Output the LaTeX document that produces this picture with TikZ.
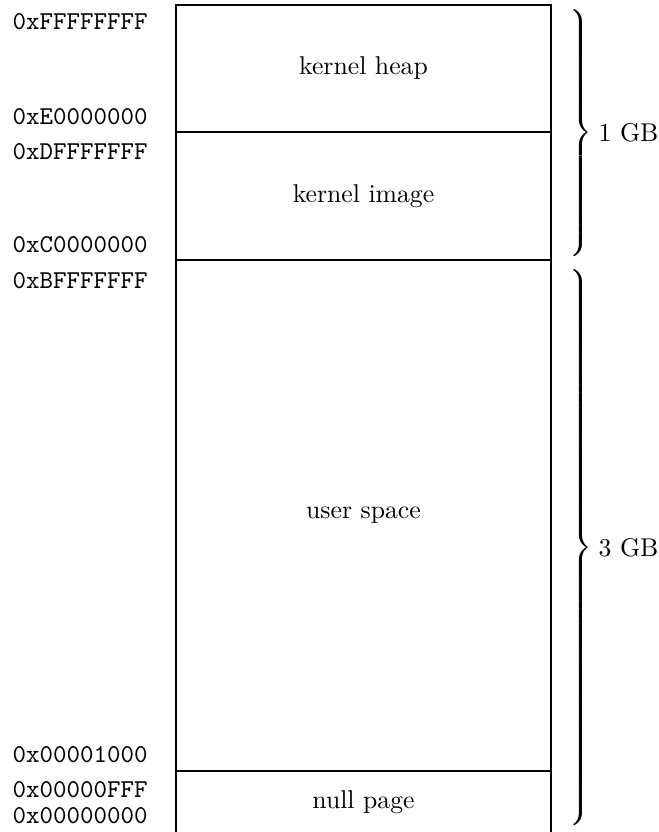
\documentclass[tikz,border=0pt]{standalone}
\delimiterfactor=1000
\delimitershortfall=0pt
\begin{document}
\begin{tikzpicture}[x=0.3889pt,y=-0.3889pt,
  addr/.style={anchor=base west,inner sep=0pt,font=\ttfamily},
  region/.style={draw,outer sep=0pt,inner sep=0pt,minimum width=375*0.3889pt,anchor=north west},
  bracenode/.style={anchor=west,inner sep=0pt},
  sizelbl/.style={anchor=west,inner sep=0pt}]
\useasboundingbox (0,0) rectangle (659,832);
\node[region,minimum height=127*0.3889pt] (heap) at (176,5) {kernel heap};
\node[region,minimum height=128*0.3889pt] (image) at (heap.south west) {kernel image};
\node[region,minimum height=511*0.3889pt] (user) at (image.south west) {user space};
\node[region,minimum height=62*0.3889pt] (null) at (user.south west) {null page};
\node[addr] (a1) at (12,29) {0xFFFFFFFF};
\node[addr] (a2) at (12,124) {0xE0000000};
\node[addr] (a3) at (12,159) {0xDFFFFFFF};
\node[addr] (a4) at (12,252) {0xC0000000};
\node[addr] (a5) at (12,288) {0xBFFFFFFF};
\node[addr] (a6) at (12,762) {0x00001000};
\node[addr] (a7) at (12,797) {0x00000FFF};
\node[addr] (a8) at (12,823) {0x00000000};
\node[bracenode] (b1) at (566,133) {$\left.\vcenter{\hrule height 92.5pt width 0pt}\right\}$};
\node[bracenode] (b2) at (566,547.5) {$\left.\vcenter{\hrule height 216pt width 0pt}\right\}$};
\node[sizelbl] (g1) at ([xshift=2pt]b1.east) {1 GB};
\node[sizelbl] (g2) at ([xshift=2pt]b2.east) {3 GB};
\end{tikzpicture}
\end{document}
